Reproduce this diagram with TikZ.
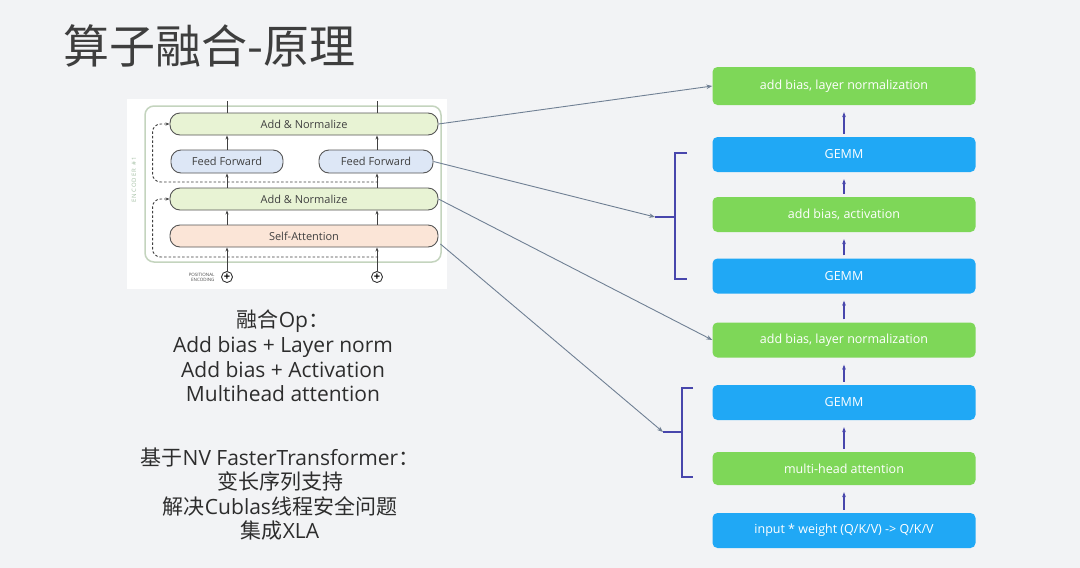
\documentclass[tikz,border=0pt]{standalone}
\usepackage{fontspec}
\setmainfont{Open Sans}
\newfontfamily\cjk{Noto Sans CJK SC}
\usetikzlibrary{arrows.meta,positioning,calc}
\definecolor{slidebg}{RGB}{242,243,245}
\definecolor{titlegray}{RGB}{62,62,62}
\definecolor{textgray}{RGB}{45,45,45}
\definecolor{fusegreen}{RGB}{126,215,88}
\definecolor{gemmblue}{RGB}{32,168,245}
\definecolor{flowblue}{RGB}{72,70,172}
\definecolor{linkgray}{RGB}{112,128,148}
\definecolor{boxborder}{RGB}{85,85,85}
\definecolor{encborder}{RGB}{196,212,190}
\definecolor{normfill}{RGB}{232,243,212}
\definecolor{ffwdfill}{RGB}{221,231,246}
\definecolor{attnfill}{RGB}{251,229,215}

\begin{document}
\begin{tikzpicture}[x=1pt, y=-1pt,
    opbox/.style={rectangle, rounded corners=5pt, inner sep=0pt,
                  minimum width=263pt, minimum height=35pt, text=white,
                  font=\fontsize{12.5}{14}\selectfont},
    fusebox/.style={opbox, fill=fusegreen},
    gemmbox/.style={opbox, fill=gemmblue},
    layerbox/.style={rectangle, rounded corners=10pt, draw=boxborder,
                     line width=0.9pt, inner sep=0pt, minimum height=22pt,
                     font=\fontsize{11}{12}\selectfont, text=black!75},
    flow/.style={-{Stealth[length=5pt]}, line width=1.6pt, color=flowblue,
                 shorten <=3pt, shorten >=7pt},
    link/.style={-{Stealth[length=6pt]}, line width=0.9pt, color=linkgray},
    brace/.style={line width=1.4pt, color=flowblue},
    up/.style={-{Stealth[length=4pt]}, line width=0.9pt, color=black!75},
    resid/.style={-{Stealth[length=4pt]}, line width=0.9pt, color=black!75,
                  dash pattern=on 2.5pt off 2pt, rounded corners=8pt},
  ]
  \fill[slidebg] (0,0) rectangle (1080,568);
  \useasboundingbox (0,0) rectangle (1080,568);
  %% Title
  \node[anchor=west, font=\cjk\fontsize{46}{52}\selectfont, text=titlegray]
        (title) at (60,46) {算子融合-原理};
  %% Encoder picture
  \fill[white] (127,99) rectangle (447,289);
  \node[draw=encborder, line width=1.5pt, rounded corners=9pt,
        minimum width=296pt, minimum height=156pt] (enc) at (293,184) {};
  \node[rotate=90, font=\fontsize{6}{7}\selectfont, text=green!30!black!35]
        (enclabel) at (134,180) {E\,N\,C\,O\,D\,E\,R\ \ \#\,1};
  \node[layerbox, fill=normfill, minimum width=268pt] (an1) at (304,124) {Add \& Normalize};
  \node[layerbox, fill=ffwdfill, minimum width=112pt, minimum height=23pt]
        (ff1) at (227,161.5) {Feed Forward};
  \node[layerbox, fill=ffwdfill, minimum width=114pt, minimum height=23pt]
        (ff2) at (376,161.5) {Feed Forward};
  \node[layerbox, fill=normfill, minimum width=268pt] (an2) at (304,199) {Add \& Normalize};
  \node[layerbox, fill=attnfill, minimum width=268pt] (sa) at (304,236) {Self-Attention};
  \node[circle, draw=black!80, line width=0.9pt, inner sep=0pt, minimum size=11pt,
        font=\fontsize{11}{11}\selectfont\bfseries] (plus1) at (227,277) {+};
  \node[circle, draw=black!80, line width=0.9pt, inner sep=0pt, minimum size=11pt,
        font=\fontsize{11}{11}\selectfont\bfseries] (plus2) at (377,277) {+};
  \node[align=right, font=\fontsize{4.5}{5}\selectfont, text=black!70, left=3pt of plus1]
        (posenc) {POSITIONAL\\ENCODING};
  \coordinate (top1) at (227,101);
  \coordinate (top2) at (377,101);
  \draw[line width=0.9pt, black!75] (plus1 |- an1.north) -- (top1);
  \draw[line width=0.9pt, black!75] (plus2 |- an1.north) -- (top2);
  \draw[up] (ff1.north) -- (ff1.north |- an1.south);
  \draw[up] (plus2 |- ff2.north) -- (plus2 |- an1.south);
  \draw[up] (plus1 |- an2.north) -- (ff1.south);
  \draw[up] (plus2 |- an2.north) -- (plus2 |- ff2.south);
  \draw[up] (plus1 |- sa.north) -- (plus1 |- an2.south);
  \draw[up] (plus2 |- sa.north) -- (plus2 |- an2.south);
  \draw[up] (plus1.north) -- (plus1 |- sa.south);
  \draw[up] (plus2.north) -- (plus2 |- sa.south);
  %% residual paths
  \coordinate (res1) at (378,182);
  \coordinate (res2) at (378,257);
  \draw[resid] (res1) -| ($(an1.west)+(-17,0)$) -- (an1.west);
  \draw[resid] (res2) -| ($(an2.west)+(-17,0)$) -- (an2.west);
  %% Fused op notes
  \node[align=center, font=\fontsize{21}{24.6}\selectfont, text=textgray]
        (fuseops) at (283,356)
        {{\cjk 融合}Op{\cjk ：}\\Add bias + Layer norm\\Add bias + Activation\\Multihead attention};
  \node[align=center, font=\fontsize{21}{24.6}\selectfont, text=textgray]
        (basedon) at (280,494)
        {{\cjk 基于}NV FasterTransformer{\cjk ：}\\{\cjk 变长序列支持}\\{\cjk 解决}Cublas{\cjk 线程安全问题}\\{\cjk 集成}XLA};
  %% Kernel chain
  \node[fusebox, minimum height=38pt] (norm2) at (844,86) {add bias, layer normalization};
  \node[gemmbox] (gemm3) at (844,154.5) {GEMM};
  \node[fusebox] (act) at (844,214.5) {add bias, activation};
  \node[gemmbox] (gemm2) at (844,276) {GEMM};
  \node[fusebox] (norm1) at (844,340) {add bias, layer normalization};
  \node[gemmbox] (gemm1) at (844,402.5) {GEMM};
  \node[fusebox, minimum height=33pt] (mha) at (844,468.5) {multi-head attention};
  \node[gemmbox] (qkv) at (844,530.5) {input * weight (Q/K/V) -> Q/K/V};
  \draw[flow] (gemm3.north) -- (norm2.south);
  \draw[flow] (act.north) -- (gemm3.south);
  \draw[flow] (gemm2.north) -- (act.south);
  \draw[flow] (norm1.north) -- (gemm2.south);
  \draw[flow] (gemm1.north) -- (norm1.south);
  \draw[flow] (mha.north) -- (gemm1.south);
  \draw[flow] (qkv.north) -- (mha.south);
  %% Brackets
  \coordinate (br1) at (655,217);
  \coordinate (br2) at (663,432);
  \draw[brace] (687,153) -- (675,153) -- (675,279) -- (687,279);
  \draw[brace] (675,217) -- (br1);
  \draw[brace] (693,388) -- (682,388) -- (682,477) -- (693,477);
  \draw[brace] (682,432) -- (br2);
  %% Links from encoder to kernels
  \draw[link] (an1.east) -- (norm2.west);
  \draw[link] (ff2.east) -- (br1);
  \draw[link] (an2.east) -- (norm1.west);
  \draw[link] ($(sa.east)+(2,8)$) -- (br2);
\end{tikzpicture}
\end{document}
